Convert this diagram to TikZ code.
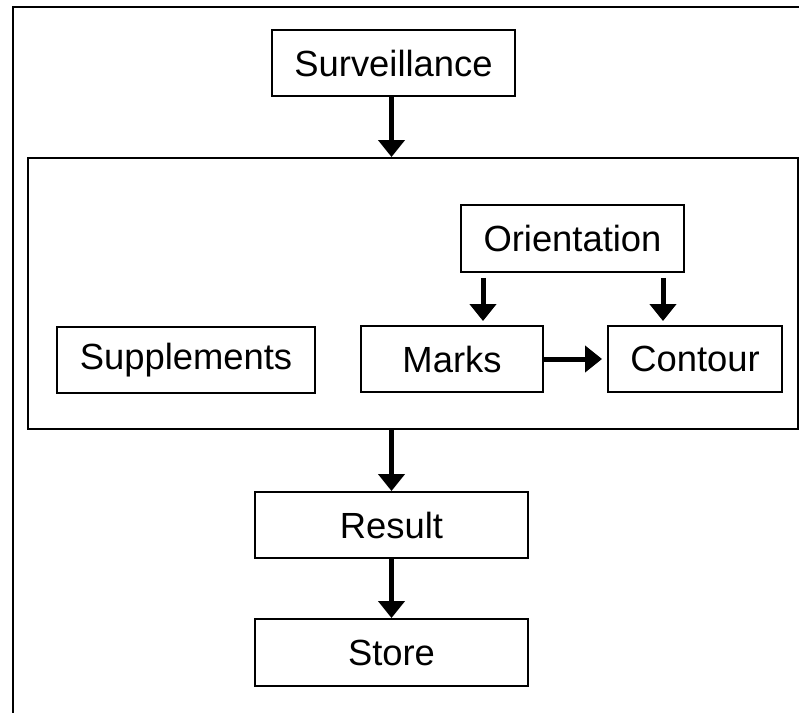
\documentclass[tikz,border=0pt]{standalone}
\usepackage{fontspec}
\setmainfont{Liberation Sans}
\usetikzlibrary{arrows.meta}

\begin{document}
\begin{tikzpicture}[
  box/.style={draw, line width=1.1pt, inner sep=0pt, minimum height=1.32cm, font=\fontsize{20.7}{24}\selectfont},
  arr/.style={line width=0.1cm, -{Triangle[length=0.34cm,width=0.52cm]}}
]
\useasboundingbox (0,0) rectangle (15.98,-14.26);
\draw[line width=1.1pt] (0.26,-14.6) -- (0.26,-0.14) -- (16.4,-0.14);
\node[box, minimum width=15.4cm, minimum height=5.42cm] (stage) at (8.26,-5.87) {};
\node[box, minimum width=4.86cm] (surv) at (7.87,-1.26) {Surveillance};
\node[box, minimum width=4.46cm, minimum height=1.34cm] (orient) at (11.45,-4.77) {Orientation};
\node[box, minimum width=5.16cm] (supp) at (3.72,-7.2) {Supplements};
\node[box, minimum width=3.64cm] (marks) at (9.04,-7.18) {Marks};
\node[box, minimum width=3.48cm] (contour) at (13.9,-7.18) {Contour};
\node[box, minimum width=5.46cm] (result) at (7.83,-10.5) {Result};
\node[box, minimum width=5.46cm, minimum height=1.34cm] (store) at (7.83,-13.05) {Store};
\draw[arr] (surv.south -| result) -- (stage.north -| result);
\draw[arr, shorten <=0.1cm, shorten >=0.08cm] ([xshift=0.62cm]marks.north |- orient.south) -- ([xshift=0.62cm]marks.north);
\draw[arr, shorten <=0.1cm, shorten >=0.08cm] ([xshift=-0.64cm]contour.north |- orient.south) -- ([xshift=-0.64cm]contour.north);
\draw[arr, shorten >=0.1cm] (marks) -- (contour);
\draw[arr] (stage.south -| result) -- (result.north);
\draw[arr] (result) -- (store);
\end{tikzpicture}
\end{document}
